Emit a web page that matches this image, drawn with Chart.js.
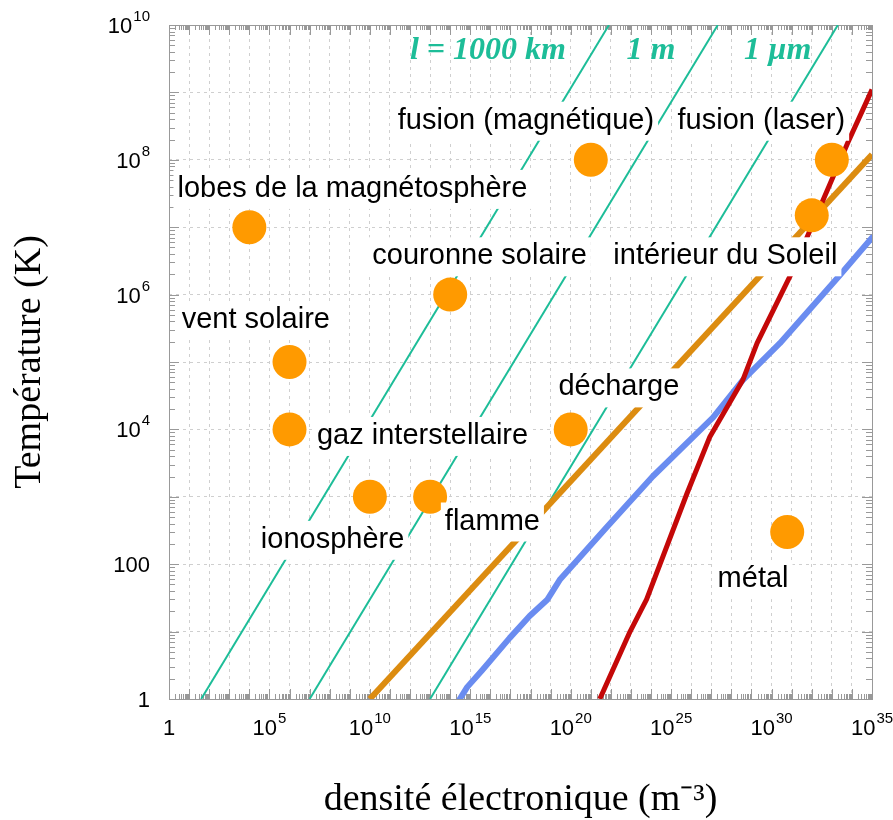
<!DOCTYPE html>
<html>
<head>
<meta charset="utf-8">
<script src="https://cdn.jsdelivr.net/npm/chart.js@4.4.1/dist/chart.umd.min.js"></script>
<style>
  html, body { margin: 0; padding: 0; background: #fff; }
  canvas { display: block; }
</style>
</head>
<body>
<canvas id="plasma" width="893" height="820"></canvas>
<script>
// axis ticks (labels written as base^exponent)
const xTickValues = [1, 1e5, 1e10, 1e15, 1e20, 1e25, 1e30, 1e35];
const xTickLabels = ['1', '10^5', '10^10', '10^15', '10^20', '10^25', '10^30', '10^35'];
const yTickValues = [1, 1e2, 1e4, 1e6, 1e8, 1e10];
const yTickLabels = ['1', '100', '10^4', '10^6', '10^8', '10^10'];

// plasmas (orange dots): electron density (m^-3), temperature (K)
const plasmaN = [1e4, 1e6, 1e6, 1e10, 1e13, 1e14, 1e20, 1e21, 1e33, 1e32, 6e30];
const plasmaT = [1e7, 1e5, 1e4, 1e3, 1e3, 1e6, 1e4, 1e8, 1e8, 1.5e7, 300];

// text labels and where they sit (data units)
const labelText = ['lobes de la magnétosphère', 'fusion (magnétique)', 'fusion (laser)',
  'couronne solaire', 'intérieur du Soleil', 'vent solaire', 'décharge',
  'gaz interstellaire', 'ionosphère', 'flamme', 'métal'];
const labelN = [1.35e9, 5.9e17, 3.1e29, 2.9e15, 5e27, 2.1e4, 2.5e22, 4.2e12, 1.4e8, 1.26e16, 1.2e29];
const labelT = [3.7e7, 3.8e8, 3.8e8, 3.7e6, 3.7e6, 4.2e5, 4.2e4, 8e3, 230, 430, 60];

// lines of constant length l (teal)
const lengthText = ['l = 1000 km', '1 m', '1 µm'];
const lengthN = [[40, 8e21], [1e7, 2.1e27], [1e13, 2e33]];
const lengthT = [[1, 1e10], [1, 1e10], [1, 1e10]];
const lengthLabelN = [7.6e15, 1e24, 2e30];
const lengthLabelT = 4.1e9;

// orange line
const orangeN = [1e10, 1e35];
const orangeT = [1, 1.2e8];

// blue line
const blueN = [3e14, 7e14, 4e15, 9e16, 9e17, 7e18, 3e19, 6e21, 1.2e24, 1.2e27, 3.7e28, 2.6e30, 2e33, 1e35];
const blueT = [1, 1.5, 2.7, 8, 17, 30, 60, 350, 2000, 1.5e4, 5.4e4, 1.9e5, 1.8e6, 7e6];

// red line
const redN = [2.8e21, 9e22, 6e23, 6e25, 8.5e26, 3.7e28, 1.9e29, 1e31, 6.3e33, 1e35];
const redT = [1, 10, 30, 1.1e3, 7.8e3, 5.4e4, 1.9e5, 2.1e6, 1.8e8, 1.1e9];

const TEAL = '#1dbd98';
const SANS = "'Liberation Sans', Arial, Helvetica, sans-serif";

function pts(xs, ys) {
  return xs.map((v, i) => ({ x: v, y: ys[i] }));
}

function decades(n) {
  const out = [];
  for (let k = 0; k <= n; k++) out.push({ value: Math.pow(10, k) });
  return out;
}

// draws "10" with a raised exponent; (px, py) is the centre of the digits
function drawPow(ctx, label, px, py, align) {
  const [base, exp] = label.split('^');
  ctx.font = '22px ' + SANS;
  const wb = ctx.measureText(base).width;
  ctx.font = '15px ' + SANS;
  const we = exp ? ctx.measureText(exp).width + 1 : 0;
  const w = wb + we;
  let x0 = align === 'right' ? px - w : px - w / 2;
  ctx.textAlign = 'left';
  ctx.textBaseline = 'alphabetic';
  ctx.font = '22px ' + SANS;
  ctx.fillText(base, x0, py + 8);
  if (exp) {
    ctx.font = '15px ' + SANS;
    ctx.fillText(exp, x0 + wb + 1, py - 4);
  }
}

const datasets = [];
lengthN.forEach((n, i) => {
  datasets.push({ data: pts(n, lengthT[i]), showLine: true, borderColor: TEAL, borderWidth: 2,
    pointRadius: 0, order: 4 });
});
datasets.push({ data: pts(orangeN, orangeT), showLine: true, borderColor: '#dc8c10', borderWidth: 6,
  pointRadius: 0, order: 3 });
datasets.push({ data: pts(blueN, blueT), showLine: true, borderColor: '#6a8cf0', borderWidth: 6,
  pointRadius: 0, order: 2, borderCapStyle: 'round', borderJoinStyle: 'round' });
datasets.push({ data: pts(redN, redT), showLine: true, borderColor: '#c40808', borderWidth: 5,
  pointRadius: 0, order: 1, borderJoinStyle: 'round' });
datasets.push({ data: pts(plasmaN, plasmaT), pointRadius: 17, pointBackgroundColor: '#ff9a00',
  pointBorderWidth: 0, order: 0 });

// frame, small log ticks, tick labels and the text boxes
const decor = {
  id: 'decor',
  beforeDatasetsDraw(chart) {
    const { ctx, chartArea: a, scales: { x, y } } = chart;
    ctx.save();
    ctx.strokeStyle = '#999';
    ctx.lineWidth = 1;
    ctx.beginPath();
    for (let k = 0; k < 35; k++) {
      for (let m = 1; m < 10; m++) {
        const px = Math.round(x.getPixelForValue(m * Math.pow(10, k))) + 0.5;
        const len = m === 1 ? 10 : 5;
        ctx.moveTo(px, a.bottom); ctx.lineTo(px, a.bottom - len);
        ctx.moveTo(px, a.top); ctx.lineTo(px, a.top + len);
      }
    }
    for (let k = 0; k < 10; k++) {
      for (let m = 1; m < 10; m++) {
        const py = Math.round(y.getPixelForValue(m * Math.pow(10, k))) + 0.5;
        const len = m === 1 ? 10 : 6;
        ctx.moveTo(a.left, py); ctx.lineTo(a.left + len, py);
        ctx.moveTo(a.right, py); ctx.lineTo(a.right - len, py);
      }
    }
    ctx.stroke();
    ctx.strokeRect(Math.round(a.left) + 0.5, Math.round(a.top) + 0.5, Math.round(a.width), Math.round(a.height));

    ctx.fillStyle = '#000';
    xTickValues.forEach((v, i) => {
      drawPow(ctx, xTickLabels[i], x.getPixelForValue(v), a.bottom + 28, 'center');
    });
    yTickValues.forEach((v, i) => {
      drawPow(ctx, yTickLabels[i], a.left - 19, y.getPixelForValue(v), 'right');
    });
    ctx.restore();
  },
  afterDatasetsDraw(chart) {
    const { ctx, scales: { x, y } } = chart;
    ctx.save();
    ctx.textAlign = 'center';
    ctx.textBaseline = 'middle';
    ctx.font = '29px ' + SANS;
    labelText.forEach((t, i) => {
      const px = x.getPixelForValue(labelN[i]);
      const py = y.getPixelForValue(labelT[i]);
      const w = ctx.measureText(t).width + 8;
      ctx.fillStyle = '#fff';
      ctx.fillRect(px - w / 2, py - 19, w, 39);
      ctx.fillStyle = '#000';
      ctx.fillText(t, px, py);
    });
    ctx.font = "bold italic 32px 'Liberation Serif', 'Times New Roman', serif";
    ctx.fillStyle = TEAL;
    lengthText.forEach((t, i) => {
      ctx.fillText(t, x.getPixelForValue(lengthLabelN[i]), y.getPixelForValue(lengthLabelT));
    });
    ctx.restore();
  }
};

const titleFont = { family: "'Liberation Serif', 'Times New Roman', serif", size: 38, lineHeight: 1 };

new Chart(document.getElementById('plasma'), {
  type: 'scatter',
  data: { datasets },
  options: {
    responsive: false,
    animation: false,
    layout: { padding: { top: 25, right: 21, left: 0, bottom: 0 } },
    plugins: { legend: { display: false }, tooltip: { enabled: false } },
    scales: {
      x: {
        type: 'logarithmic',
        min: 1,
        max: 1e35,
        afterBuildTicks: s => { s.ticks = decades(35); },
        afterFit: s => { s.height = 121; s.paddingLeft = 0; s.paddingRight = 0; },
        ticks: { display: false },
        grid: { color: '#cfcfcf', drawTicks: false },
        border: { display: false, dash: [3, 4] },
        title: { display: true, text: 'densité électronique (m⁻³)', color: '#000', font: titleFont,
          padding: { top: 0, bottom: 1 } }
      },
      y: {
        type: 'logarithmic',
        min: 1,
        max: 1e10,
        afterBuildTicks: s => { s.ticks = decades(10); },
        afterFit: s => { s.width = 169; s.paddingTop = 0; s.paddingBottom = 0; },
        ticks: { display: false },
        grid: { color: '#cfcfcf', drawTicks: false },
        border: { display: false, dash: [3, 4] },
        title: { display: true, text: 'Température (K)', color: '#000', font: titleFont,
          padding: { top: 11, bottom: 0 } }
      }
    }
  },
  plugins: [decor]
});
</script>
</body>
</html>
